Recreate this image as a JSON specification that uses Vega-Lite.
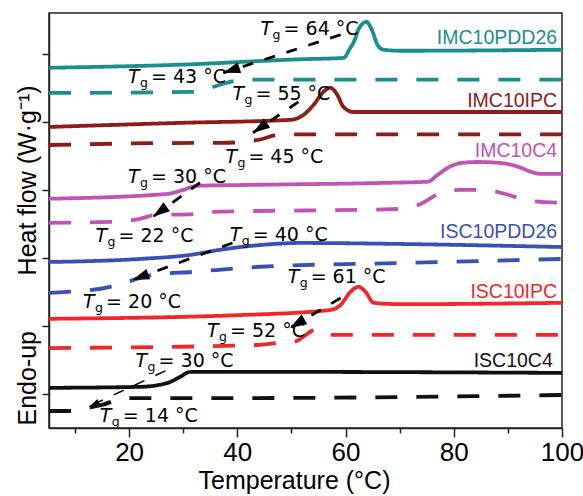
{
  "$schema": "https://vega.github.io/schema/vega-lite/v6.json",
  "width": 513,
  "height": 415,
  "autosize": "none",
  "padding": {"left": 49, "top": 13, "right": 21, "bottom": 68},
  "background": "white",
  "config": {
    "font": "Liberation Sans",
    "view": {"stroke": "#222", "strokeWidth": 1.5},
    "axis": {"grid": false, "domainColor": "#222", "tickColor": "#222", "domainWidth": 1.5, "tickWidth": 1.5, "labelColor": "black", "titleColor": "black", "labelFont": "Liberation Sans", "titleFont": "Liberation Sans", "titleFontWeight": "normal"}
  },
  "datasets": {
    "curves": [
      {"s": "IMC10PDD26", "k": "solid", "x": 5.2, "y": 10.59},
      {"s": "IMC10PDD26", "k": "solid", "x": 29.4, "y": 10.68},
      {"s": "IMC10PDD26", "k": "solid", "x": 51.7, "y": 10.84},
      {"s": "IMC10PDD26", "k": "solid", "x": 59.6, "y": 10.88},
      {"s": "IMC10PDD26", "k": "solid", "x": 60.9, "y": 11.18},
      {"s": "IMC10PDD26", "k": "solid", "x": 61.7, "y": 11.41},
      {"s": "IMC10PDD26", "k": "solid", "x": 62.2, "y": 11.65},
      {"s": "IMC10PDD26", "k": "solid", "x": 63.1, "y": 11.88},
      {"s": "IMC10PDD26", "k": "solid", "x": 63.9, "y": 11.94},
      {"s": "IMC10PDD26", "k": "solid", "x": 64.4, "y": 11.85},
      {"s": "IMC10PDD26", "k": "solid", "x": 65.0, "y": 11.65},
      {"s": "IMC10PDD26", "k": "solid", "x": 65.4, "y": 11.47},
      {"s": "IMC10PDD26", "k": "solid", "x": 65.9, "y": 11.26},
      {"s": "IMC10PDD26", "k": "solid", "x": 67.0, "y": 11.12},
      {"s": "IMC10PDD26", "k": "solid", "x": 70.2, "y": 11.09},
      {"s": "IMC10PDD26", "k": "solid", "x": 100, "y": 11.12},
      {"s": "IMC10PDD26", "k": "dashed", "x": 5.2, "y": 9.85},
      {"s": "IMC10PDD26", "k": "dashed", "x": 31.9, "y": 9.88},
      {"s": "IMC10PDD26", "k": "dashed", "x": 35.0, "y": 10.0},
      {"s": "IMC10PDD26", "k": "dashed", "x": 38.1, "y": 10.15},
      {"s": "IMC10PDD26", "k": "dashed", "x": 41.1, "y": 10.24},
      {"s": "IMC10PDD26", "k": "dashed", "x": 100, "y": 10.24},
      {"s": "IMC10IPC", "k": "solid", "x": 5.2, "y": 8.85},
      {"s": "IMC10IPC", "k": "solid", "x": 29.4, "y": 8.97},
      {"s": "IMC10IPC", "k": "solid", "x": 49.8, "y": 9.06},
      {"s": "IMC10IPC", "k": "solid", "x": 52.2, "y": 9.2},
      {"s": "IMC10IPC", "k": "solid", "x": 54.1, "y": 9.5},
      {"s": "IMC10IPC", "k": "solid", "x": 55.9, "y": 9.88},
      {"s": "IMC10IPC", "k": "solid", "x": 57.2, "y": 10.0},
      {"s": "IMC10IPC", "k": "solid", "x": 58.5, "y": 9.79},
      {"s": "IMC10IPC", "k": "solid", "x": 59.6, "y": 9.44},
      {"s": "IMC10IPC", "k": "solid", "x": 61.5, "y": 9.29},
      {"s": "IMC10IPC", "k": "solid", "x": 100, "y": 9.29},
      {"s": "IMC10IPC", "k": "dashed", "x": 5.2, "y": 8.32},
      {"s": "IMC10IPC", "k": "dashed", "x": 32.6, "y": 8.38},
      {"s": "IMC10IPC", "k": "dashed", "x": 36.9, "y": 8.38},
      {"s": "IMC10IPC", "k": "dashed", "x": 43.9, "y": 8.47},
      {"s": "IMC10IPC", "k": "dashed", "x": 48.0, "y": 8.63},
      {"s": "IMC10IPC", "k": "dashed", "x": 100, "y": 8.63},
      {"s": "IMC10C4", "k": "solid", "x": 5.2, "y": 6.74},
      {"s": "IMC10C4", "k": "solid", "x": 27.0, "y": 6.88},
      {"s": "IMC10C4", "k": "solid", "x": 30.0, "y": 7.0},
      {"s": "IMC10C4", "k": "solid", "x": 32.6, "y": 7.12},
      {"s": "IMC10C4", "k": "solid", "x": 44.3, "y": 7.15},
      {"s": "IMC10C4", "k": "solid", "x": 68.3, "y": 7.21},
      {"s": "IMC10C4", "k": "solid", "x": 75.2, "y": 7.24},
      {"s": "IMC10C4", "k": "solid", "x": 77.0, "y": 7.44},
      {"s": "IMC10C4", "k": "solid", "x": 78.9, "y": 7.65},
      {"s": "IMC10C4", "k": "solid", "x": 81.3, "y": 7.79},
      {"s": "IMC10C4", "k": "solid", "x": 84.4, "y": 7.82},
      {"s": "IMC10C4", "k": "solid", "x": 88.7, "y": 7.79},
      {"s": "IMC10C4", "k": "solid", "x": 91.9, "y": 7.68},
      {"s": "IMC10C4", "k": "solid", "x": 94.3, "y": 7.53},
      {"s": "IMC10C4", "k": "solid", "x": 96.1, "y": 7.47},
      {"s": "IMC10C4", "k": "solid", "x": 100, "y": 7.47},
      {"s": "IMC10C4", "k": "dashed", "x": 5.2, "y": 6.03},
      {"s": "IMC10C4", "k": "dashed", "x": 16.5, "y": 6.06},
      {"s": "IMC10C4", "k": "dashed", "x": 22.0, "y": 6.15},
      {"s": "IMC10C4", "k": "dashed", "x": 24.8, "y": 6.26},
      {"s": "IMC10C4", "k": "dashed", "x": 31.9, "y": 6.29},
      {"s": "IMC10C4", "k": "dashed", "x": 35.0, "y": 6.35},
      {"s": "IMC10C4", "k": "dashed", "x": 70.2, "y": 6.44},
      {"s": "IMC10C4", "k": "dashed", "x": 73.5, "y": 6.56},
      {"s": "IMC10C4", "k": "dashed", "x": 77.6, "y": 6.91},
      {"s": "IMC10C4", "k": "dashed", "x": 81.3, "y": 7.0},
      {"s": "IMC10C4", "k": "dashed", "x": 84.4, "y": 7.0},
      {"s": "IMC10C4", "k": "dashed", "x": 87.2, "y": 6.97},
      {"s": "IMC10C4", "k": "dashed", "x": 90.2, "y": 6.85},
      {"s": "IMC10C4", "k": "dashed", "x": 93.9, "y": 6.68},
      {"s": "IMC10C4", "k": "dashed", "x": 100, "y": 6.62},
      {"s": "ISC10PDD26", "k": "solid", "x": 5.2, "y": 4.88},
      {"s": "ISC10PDD26", "k": "solid", "x": 22.0, "y": 4.97},
      {"s": "ISC10PDD26", "k": "solid", "x": 31.3, "y": 5.09},
      {"s": "ISC10PDD26", "k": "solid", "x": 36.9, "y": 5.24},
      {"s": "ISC10PDD26", "k": "solid", "x": 44.3, "y": 5.38},
      {"s": "ISC10PDD26", "k": "solid", "x": 51.7, "y": 5.44},
      {"s": "ISC10PDD26", "k": "solid", "x": 70.2, "y": 5.41},
      {"s": "ISC10PDD26", "k": "solid", "x": 100, "y": 5.32},
      {"s": "ISC10PDD26", "k": "dashed", "x": 5.2, "y": 3.97},
      {"s": "ISC10PDD26", "k": "dashed", "x": 8.5, "y": 4.0},
      {"s": "ISC10PDD26", "k": "dashed", "x": 16.5, "y": 4.15},
      {"s": "ISC10PDD26", "k": "dashed", "x": 18.9, "y": 4.26},
      {"s": "ISC10PDD26", "k": "dashed", "x": 24.4, "y": 4.5},
      {"s": "ISC10PDD26", "k": "dashed", "x": 31.9, "y": 4.59},
      {"s": "ISC10PDD26", "k": "dashed", "x": 44.3, "y": 4.74},
      {"s": "ISC10PDD26", "k": "dashed", "x": 70.2, "y": 4.85},
      {"s": "ISC10PDD26", "k": "dashed", "x": 100, "y": 4.97},
      {"s": "ISC10IPC", "k": "solid", "x": 5.2, "y": 3.21},
      {"s": "ISC10IPC", "k": "solid", "x": 40.6, "y": 3.32},
      {"s": "ISC10IPC", "k": "solid", "x": 57.2, "y": 3.47},
      {"s": "ISC10IPC", "k": "solid", "x": 59.1, "y": 3.62},
      {"s": "ISC10IPC", "k": "solid", "x": 60.9, "y": 4.0},
      {"s": "ISC10IPC", "k": "solid", "x": 62.4, "y": 4.15},
      {"s": "ISC10IPC", "k": "solid", "x": 63.7, "y": 4.0},
      {"s": "ISC10IPC", "k": "solid", "x": 65.2, "y": 3.68},
      {"s": "ISC10IPC", "k": "solid", "x": 70.2, "y": 3.64},
      {"s": "ISC10IPC", "k": "solid", "x": 100, "y": 3.68},
      {"s": "ISC10IPC", "k": "dashed", "x": 5.2, "y": 2.35},
      {"s": "ISC10IPC", "k": "dashed", "x": 43.7, "y": 2.44},
      {"s": "ISC10IPC", "k": "dashed", "x": 47.4, "y": 2.5},
      {"s": "ISC10IPC", "k": "dashed", "x": 50.4, "y": 2.53},
      {"s": "ISC10IPC", "k": "dashed", "x": 54.8, "y": 2.91},
      {"s": "ISC10IPC", "k": "dashed", "x": 57.2, "y": 2.74},
      {"s": "ISC10IPC", "k": "dashed", "x": 100, "y": 2.74},
      {"s": "ISC10C4", "k": "solid", "x": 5.2, "y": 1.18},
      {"s": "ISC10C4", "k": "solid", "x": 22.0, "y": 1.21},
      {"s": "ISC10C4", "k": "solid", "x": 27.0, "y": 1.32},
      {"s": "ISC10C4", "k": "solid", "x": 29.4, "y": 1.5},
      {"s": "ISC10C4", "k": "solid", "x": 31.3, "y": 1.65},
      {"s": "ISC10C4", "k": "solid", "x": 44.3, "y": 1.65},
      {"s": "ISC10C4", "k": "solid", "x": 100, "y": 1.62},
      {"s": "ISC10C4", "k": "dashed", "x": 5.2, "y": 0.5},
      {"s": "ISC10C4", "k": "dashed", "x": 9.1, "y": 0.5},
      {"s": "ISC10C4", "k": "dashed", "x": 12.2, "y": 0.59},
      {"s": "ISC10C4", "k": "dashed", "x": 15.0, "y": 0.68},
      {"s": "ISC10C4", "k": "dashed", "x": 19.3, "y": 0.88},
      {"s": "ISC10C4", "k": "dashed", "x": 40.0, "y": 0.88},
      {"s": "ISC10C4", "k": "dashed", "x": 100, "y": 0.97}
    ],
    "labels": [
      {"s": "IMC10PDD26", "x": 99.1, "y": 11.3},
      {"s": "IMC10IPC", "x": 99.1, "y": 9.44},
      {"s": "IMC10C4", "x": 99.1, "y": 7.97},
      {"s": "ISC10PDD26", "x": 99.1, "y": 5.59},
      {"s": "ISC10IPC", "x": 99.1, "y": 3.82},
      {"s": "ISC10C4", "x": 98.3, "y": 1.79}
    ],
    "ann": [
      {"v": "= 64 °C", "x": 44.3, "y": 11.56},
      {"v": "= 43 °C", "x": 19.8, "y": 10.15},
      {"v": "= 55 °C", "x": 39.1, "y": 9.65},
      {"v": "= 45 °C", "x": 37.8, "y": 7.79},
      {"v": "= 30 °C", "x": 19.8, "y": 7.21},
      {"v": "= 22 °C", "x": 13.8, "y": 5.47},
      {"v": "= 40 °C", "x": 38.6, "y": 5.5},
      {"v": "= 20 °C", "x": 11.5, "y": 3.53},
      {"v": "= 61 °C", "x": 49.3, "y": 4.27},
      {"v": "= 52 °C", "x": 34.4, "y": 2.68},
      {"v": "= 30 °C", "x": 21.2, "y": 1.79},
      {"v": "= 14 °C", "x": 14.6, "y": 0.18}
    ],
    "arrows": [
      {"id": 1, "x1": 59.1, "y1": 11.56, "x2": 37.4, "y2": 10.44},
      {"id": 2, "x1": 51.3, "y1": 9.59, "x2": 42.9, "y2": 8.68},
      {"id": 3, "x1": 33.1, "y1": 7.21, "x2": 24.4, "y2": 6.21},
      {"id": 4, "x1": 39.1, "y1": 5.44, "x2": 20.6, "y2": 4.35},
      {"id": 5, "x1": 59.1, "y1": 3.82, "x2": 49.7, "y2": 2.94},
      {"id": 6, "x1": 26.7, "y1": 1.68, "x2": 12.8, "y2": 0.65}
    ]
  },
  "layer": [
    {
      "data": {"name": "curves"},
      "mark": {"type": "line", "interpolate": "monotone", "strokeWidth": 3.8, "strokeCap": "butt"},
      "encoding": {
        "x": {
          "field": "x", "type": "quantitative",
          "scale": {"domain": [5.2, 100], "nice": false, "zero": false},
          "axis": {
            "values": [10, 20, 30, 40, 50, 60, 70, 80, 90, 100],
            "labelExpr": "datum.value % 20 === 0 ? datum.label : ''",
            "tickSize": {"condition": {"test": "datum.value % 20 === 0", "value": 9}, "value": 5},
            "labelFontSize": 26, "labelPadding": 2, "labelFlush": false, "labelOverlap": false,
            "title": "Temperature (°C)", "titleFontSize": 25, "titleX": 245, "titleY": 60,
            "titleBaseline": "alphabetic", "titleAlign": "center"
          }
        },
        "y": {
          "field": "y", "type": "quantitative",
          "scale": {"domain": [0, 12.2], "nice": false, "zero": false},
          "axis": {
            "values": [1, 2, 3, 4, 5, 6, 7, 8, 9, 10, 11, 12],
            "labels": false, "tickSize": 7,
            "title": "Endo-up\u00a0\u00a0\u00a0\u00a0\u00a0\u00a0\u00a0\u00a0Heat flow (W·g⁻¹)",
            "titleFontSize": 25, "titleAngle": 270, "titleAlign": "left", "titleBaseline": "alphabetic",
            "titleX": -14, "titleY": 412
          }
        },
        "color": {
          "field": "s", "type": "nominal",
          "scale": {
            "domain": ["IMC10PDD26", "IMC10IPC", "IMC10C4", "ISC10PDD26", "ISC10IPC", "ISC10C4"],
            "range": ["#1a8f8c", "#8e1b1b", "#c054b4", "#3c50b4", "#f02828", "#111111"]
          },
          "legend": null
        },
        "strokeDash": {
          "field": "k", "type": "nominal",
          "scale": {"domain": ["solid", "dashed"], "range": [[1, 0], [22, 19]]},
          "legend": null
        }
      }
    },
    {
      "data": {"name": "arrows"},
      "mark": {"type": "rule", "strokeDash": [11, 12], "color": "black"},
      "encoding": {
        "x": {"field": "x1", "type": "quantitative"},
        "y": {"field": "y1", "type": "quantitative"},
        "x2": {"field": "x2"},
        "y2": {"field": "y2"},
        "strokeWidth": {"condition": {"test": "datum.id === 6", "value": 1.5}, "value": 2.8}
      }
    },
    {
      "data": {"name": "arrows"},
      "transform": [{"calculate": "atan2((datum.y1 - datum.y2) * 34, (datum.x2 - datum.x1) * 5.41) * 180 / PI", "as": "ang"}],
      "mark": {"type": "point", "shape": "M 0 0 L -2 -0.65 L -2 0.65 Z", "filled": true, "color": "black", "opacity": 1, "strokeWidth": 0},
      "encoding": {
        "x": {"field": "x2", "type": "quantitative"},
        "y": {"field": "y2", "type": "quantitative"},
        "angle": {"field": "ang", "type": "quantitative", "scale": null},
        "size": {"condition": {"test": "datum.id === 6", "value": 90}, "value": 289}
      }
    },
    {
      "data": {"name": "labels"},
      "mark": {"type": "text", "align": "right", "baseline": "alphabetic", "fontSize": 19.5},
      "encoding": {
        "x": {"field": "x", "type": "quantitative"},
        "y": {"field": "y", "type": "quantitative"},
        "text": {"field": "s"},
        "color": {"field": "s", "type": "nominal", "legend": null}
      }
    },
    {
      "data": {"name": "ann"},
      "mark": {"type": "text", "align": "left", "baseline": "alphabetic", "font": "DejaVu Sans", "fontSize": 19, "fontStyle": "italic", "color": "black"},
      "encoding": {
        "x": {"field": "x", "type": "quantitative"},
        "y": {"field": "y", "type": "quantitative"},
        "text": {"value": "T"}
      }
    },
    {
      "data": {"name": "ann"},
      "mark": {"type": "text", "align": "left", "baseline": "alphabetic", "font": "DejaVu Sans", "fontSize": 12.5, "dx": 12, "dy": 4, "color": "black"},
      "encoding": {
        "x": {"field": "x", "type": "quantitative"},
        "y": {"field": "y", "type": "quantitative"},
        "text": {"value": "g"}
      }
    },
    {
      "data": {"name": "ann"},
      "mark": {"type": "text", "align": "left", "baseline": "alphabetic", "font": "DejaVu Sans", "fontSize": 19, "dx": 23, "color": "black"},
      "encoding": {
        "x": {"field": "x", "type": "quantitative"},
        "y": {"field": "y", "type": "quantitative"},
        "text": {"field": "v"}
      }
    }
  ]
}
